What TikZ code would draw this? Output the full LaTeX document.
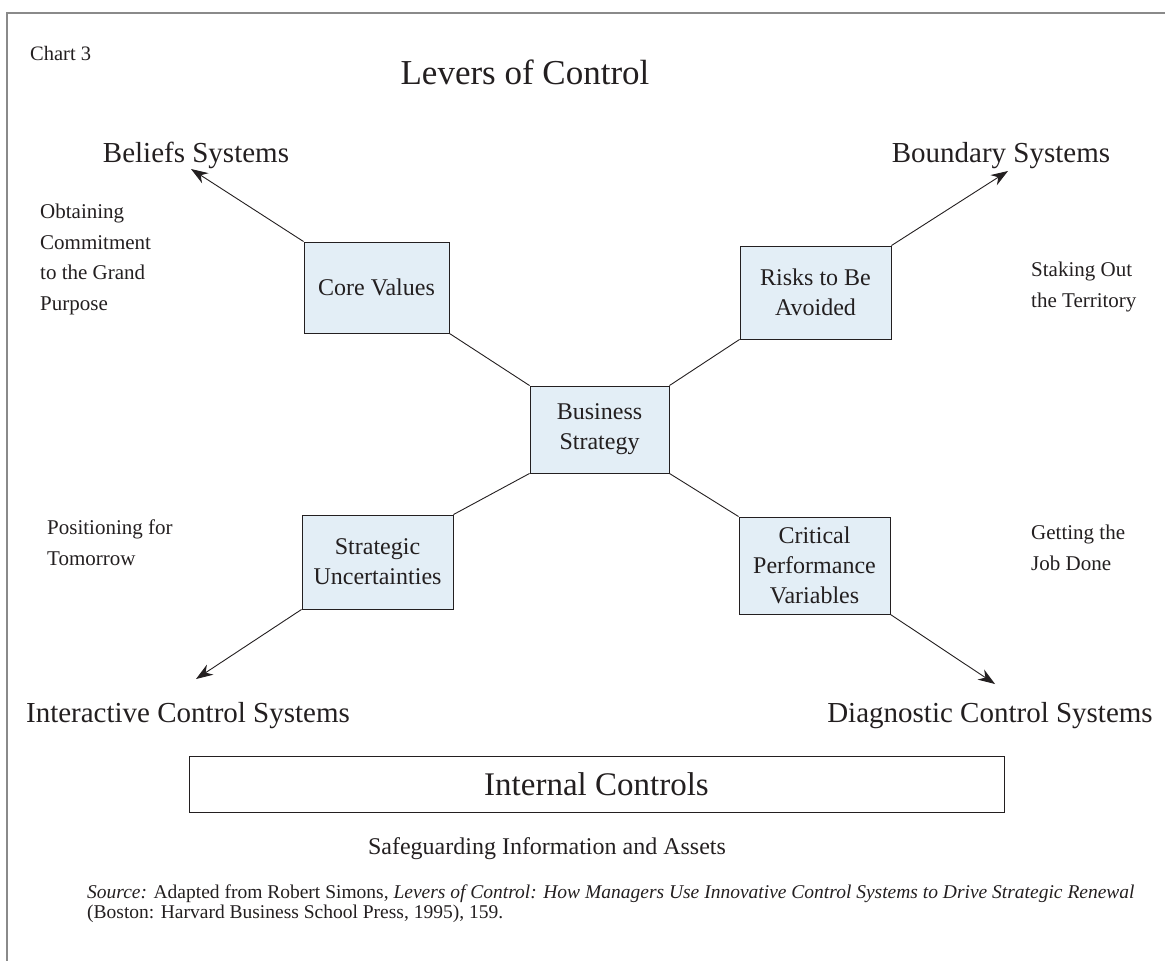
\documentclass[tikz,border=0pt]{standalone}
\usepackage{fontspec}
\setmainfont{Liberation Serif}
\usetikzlibrary{arrows.meta}
\definecolor{ink}{HTML}{231F20}
\definecolor{boxfill}{HTML}{E3EEF6}
\definecolor{framegray}{HTML}{8A8A8A}
\tikzset{
  lever/.style={draw=ink, line width=0.9pt, fill=boxfill, text=ink, align=center,
    inner sep=0pt, font=\fontsize{24}{30}\selectfont},
  link/.style={draw=ink, line width=0.9pt},
  arr/.style={link, -{Stealth[length=17pt,width=12pt]}},
  heading/.style={text=ink, inner sep=0pt, anchor=base, font=\fontsize{29}{34}\selectfont},
  note/.style={text=ink, inner sep=0pt, align=left, anchor=north west,
    font=\fontsize{21}{30.5}\selectfont},
}
\begin{document}
\begin{tikzpicture}[x=1pt, y=-1pt]
\useasboundingbox (0,0) rectangle (1165,961);
% page frame, open to the right and bottom
\draw[framegray, line width=2pt] (7,961) -- (7,13) -- (1165,13);

\node[text=ink, anchor=base west, inner sep=0pt, font=\fontsize{20.5}{24}\selectfont] (chart) at (30,60) {Chart 3};
\node[text=ink, inner sep=0pt, font=\fontsize{35}{40}\selectfont] (title) at (525,72) {Levers of Control};

% the four levers around the strategy
\node[lever, minimum width=139pt, minimum height=87pt] (bs) at (599.5,429.5) {Business\\Strategy};
\node[lever, minimum width=145pt, minimum height=91pt] (cv) at (376.5,287.5) {Core Values};
\node[lever, minimum width=151pt, minimum height=93pt] (rk) at (815.5,292.5) {Risks to Be\\Avoided};
\node[lever, minimum width=151pt, minimum height=94pt] (su) at (377.5,562) {Strategic\\Uncertainties};
\node[lever, minimum width=151pt, minimum height=97pt] (cp) at (814.5,565.5) {Critical\\Performance\\Variables};

\draw[link] (cv.south east) -- (bs.north west);
\draw[link] (rk.south west) -- (bs.north east);
\draw[link] (su.north east) -- (bs.south west);
\draw[link] (cp.north west) -- (bs.south east);

% system headings
\node[heading] (beliefs) at (196,162) {Beliefs Systems};
\node[heading] (boundary) at (1001,162) {Boundary Systems};
\node[heading] (interactive) at (188,722) {Interactive Control Systems};
\node[heading] (diagnostic) at (990,722) {Diagnostic Control Systems};

\coordinate (tipBel) at (191,169);
\coordinate (tipBnd) at (1008,171);
\coordinate (tipInt) at (196,679);
\coordinate (tipDia) at (995,684);
\draw[arr] (cv.north west) -- (tipBel);
\draw[arr] (rk.north east) -- (tipBnd);
\draw[arr] (su.south west) -- (tipInt);
\draw[arr] (cp.south east) -- (tipDia);

% purposes of each lever
\node[note] (obtain) at (40,204) {Obtaining\\Commitment\\to the Grand\\Purpose};
\node[note] (stake) at (1031,262) {Staking Out\\the Territory};
\node[note] (position) at (47,520) {Positioning for\\Tomorrow};
\node[note] (getting) at (1031,525) {Getting the\\Job Done};

% foundation
\node[draw=ink, line width=0.9pt, text=ink, inner sep=0pt, minimum width=815pt, minimum height=56pt,
  font=\fontsize{33}{38}\selectfont] (ic) at (596.5,784) {Internal Controls};
\node[text=ink, inner sep=0pt, font=\fontsize{24}{28}\selectfont] (safe) at (547,849) {Safeguarding Information and Assets};

\node[text=ink, anchor=base west, align=left, inner sep=0pt, font=\fontsize{19.5}{20}\selectfont] (src) at (87,918)
  {\textit{Source:} Adapted from Robert Simons, \textit{Levers of Control: How Managers Use Innovative Control Systems to Drive Strategic Renewal}\\
   (Boston: Harvard Business School Press, 1995), 159.};
\end{tikzpicture}
\end{document}
